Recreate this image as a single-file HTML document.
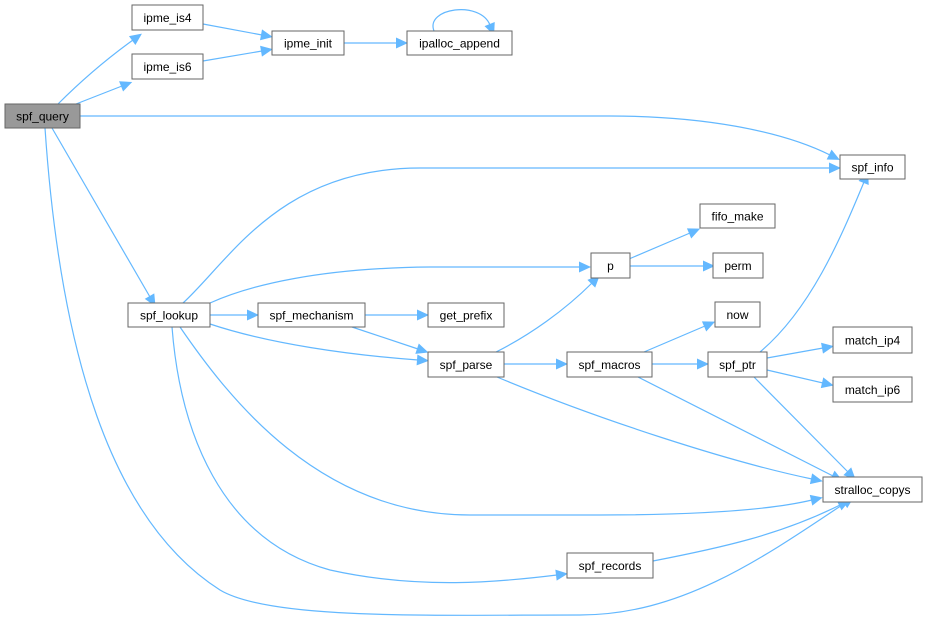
<!DOCTYPE html>
<html><head><meta charset="utf-8"><style>
html,body{margin:0;padding:0;background:#fff;}
svg{display:block;}
text{font-family:"Liberation Sans",Arial,sans-serif;font-size:12px;fill:#000;}
</style></head><body>
<svg width="928" height="622" viewBox="0 0 928 622" xmlns="http://www.w3.org/2000/svg">
<defs>
<marker id="a" markerUnits="userSpaceOnUse" markerWidth="13" markerHeight="11" refX="1" refY="5.5" orient="auto" overflow="visible">
<path d="M0,0 L12,5.5 L0,11 Z" fill="#63b8ff"/>
</marker>
</defs>
<g fill="none" stroke="#63b8ff" stroke-width="1.2" marker-end="url(#a)">
<path d="M58,104 C80,82 108,58 133,40"/>
<path d="M76,104 L122,86"/>
<path d="M203,24 L262,35"/>
<path d="M203,61 L262,51"/>
<path d="M344,43 L397,43"/>
<path d="M434,31 C425,8 480,0 490,25"/>
<path d="M80,116 L610,116 C700,116 780,130 830,155"/>
<path d="M52,128 L150,297"/>
<path d="M45,128 C60,350 110,520 220,590 C270,620 430,615 580,615 C680,615 760,560 845,503"/>
<path d="M183,303 C230,260 280,168 420,168 L830,168"/>
<path d="M210,303 C250,285 320,268 430,267 L580,267"/>
<path d="M210,315 L248,315"/>
<path d="M210,324 C270,344 350,355 418,360"/>
<path d="M352,327 L418,349"/>
<path d="M365,315 L418,315"/>
<path d="M180,327 C230,400 320,515 470,515 L600,515 C700,515 770,510 812,500"/>
<path d="M172,327 C180,430 220,540 330,570 C420,590 500,582 557,575"/>
<path d="M496,352 C530,335 565,310 592,283"/>
<path d="M629,259 L690,233"/>
<path d="M629,266 L704,266"/>
<path d="M504,364 L557,364"/>
<path d="M497,377 C600,420 730,462 812,479"/>
<path d="M652,364 L698,364"/>
<path d="M644,352 L705,326"/>
<path d="M638,377 L833,476"/>
<path d="M760,352 C810,310 840,240 864,182"/>
<path d="M767,358 L823,348"/>
<path d="M767,370 L823,383"/>
<path d="M754,377 L848,472"/>
<path d="M653,561 C720,548 780,535 840,505"/>
</g>
<g stroke="#666" stroke-width="1" fill="#fff">
<rect x="5" y="104" width="75" height="24" fill="#999"/>
<rect x="132" y="5" width="71" height="25"/>
<rect x="132" y="54" width="71" height="25"/>
<rect x="272" y="31" width="72" height="24"/>
<rect x="407" y="31" width="105" height="24"/>
<rect x="840" y="155" width="65" height="24"/>
<rect x="128" y="303" width="82" height="24"/>
<rect x="258" y="303" width="107" height="24"/>
<rect x="428" y="303" width="76" height="24"/>
<rect x="591" y="253" width="39" height="25"/>
<rect x="700" y="204" width="75" height="24"/>
<rect x="713" y="253" width="50" height="25"/>
<rect x="715" y="302" width="45" height="25"/>
<rect x="428" y="352" width="76" height="25"/>
<rect x="567" y="352" width="85" height="25"/>
<rect x="708" y="352" width="59" height="25"/>
<rect x="833" y="327" width="79" height="26"/>
<rect x="833" y="377" width="79" height="25"/>
<rect x="823" y="477" width="99" height="25"/>
<rect x="567" y="553" width="86" height="25"/>
</g>
<g text-anchor="middle">
<text x="42.5" y="120.5">spf_query</text>
<text x="167.5" y="22">ipme_is4</text>
<text x="167.5" y="71">ipme_is6</text>
<text x="308" y="47.5">ipme_init</text>
<text x="459.5" y="47.5">ipalloc_append</text>
<text x="872.5" y="171.5">spf_info</text>
<text x="169" y="319.5">spf_lookup</text>
<text x="311.5" y="319.5">spf_mechanism</text>
<text x="466" y="319.5">get_prefix</text>
<text x="610.5" y="270">p</text>
<text x="737.5" y="220.5">fifo_make</text>
<text x="738" y="270">perm</text>
<text x="737.5" y="319">now</text>
<text x="466" y="369">spf_parse</text>
<text x="609.5" y="369">spf_macros</text>
<text x="737.5" y="369">spf_ptr</text>
<text x="872.5" y="344.5">match_ip4</text>
<text x="872.5" y="394">match_ip6</text>
<text x="872.5" y="494">stralloc_copys</text>
<text x="610" y="570">spf_records</text>
</g>
</svg>
</body></html>
